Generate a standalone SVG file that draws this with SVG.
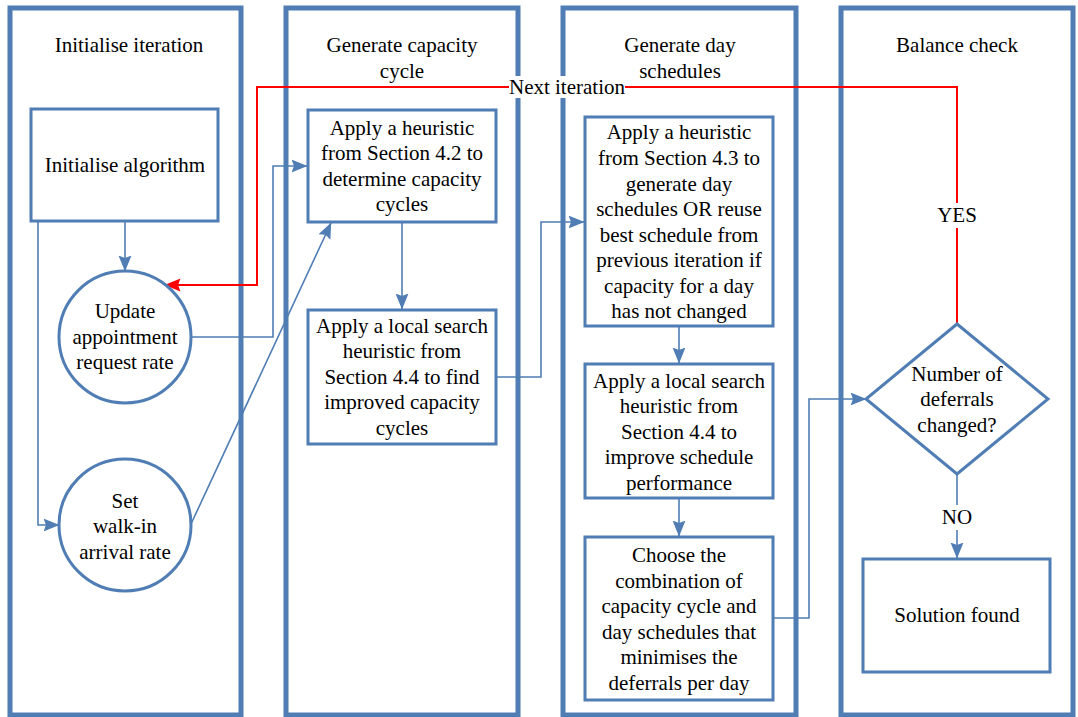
<svg xmlns="http://www.w3.org/2000/svg" width="1078" height="717" viewBox="0 0 1078 717">
<defs>
<marker id="ab" markerUnits="userSpaceOnUse" markerWidth="16" markerHeight="14" viewBox="0 0 16 14" refX="15.5" refY="7" orient="auto"><path d="M0,0.5 L16,7 L0,13.5 L2.5,7 Z" fill="#4F7DB4"/></marker>
<marker id="ar" markerUnits="userSpaceOnUse" markerWidth="16" markerHeight="14" viewBox="0 0 16 14" refX="15.5" refY="7" orient="auto"><path d="M0,0.5 L16,7 L0,13.5 L2.5,7 Z" fill="#FF0000"/></marker>
<style>
.lane{fill:#fff;stroke:#4F7DB4;stroke-width:5}
.node{fill:#fff;stroke:#4F7DB4;stroke-width:3}
.c{fill:none;stroke:#4F7DB4;stroke-width:1.6}
.r{fill:none;stroke:#FF0000;stroke-width:2}
text{font-family:"Liberation Serif","Times New Roman",serif;font-size:21px;fill:#000;text-anchor:middle}
</style>
</defs>
<rect width="1078" height="717" fill="#fff"/>
<g id="lanes">
<g id="lane-init"><rect class="lane" x="10" y="8" width="231" height="707"/><text x="129" y="52">Initialise iteration</text></g>
<g id="lane-capacity"><rect class="lane" x="286" y="8" width="232" height="707"/><text x="402" y="52">Generate capacity</text><text x="402" y="78">cycle</text></g>
<g id="lane-day"><rect class="lane" x="563" y="8" width="233" height="707"/><text x="680" y="52">Generate day</text><text x="680" y="78">schedules</text></g>
<g id="lane-balance"><rect class="lane" x="841" y="8" width="232" height="707"/><text x="957" y="52">Balance check</text></g>
</g>
<g id="connectors">
<path class="c" d="M125,221 V271" marker-end="url(#ab)"/>
<path class="c" d="M38,221 V525 H59" marker-end="url(#ab)"/>
<path class="c" d="M191,337 H273 V166 H307" marker-end="url(#ab)"/>
<path class="c" d="M191,524 L331,223" marker-end="url(#ab)"/>
<path class="c" d="M402,222 V309" marker-end="url(#ab)"/>
<path class="c" d="M496,377 H541 V222 H584" marker-end="url(#ab)"/>
<path class="c" d="M679,326 V363" marker-end="url(#ab)"/>
<path class="c" d="M679,498 V536" marker-end="url(#ab)"/>
<path class="c" d="M773,618 H809 V399 H866" marker-end="url(#ab)"/>
<path class="c" d="M957,474 V505 M957,530 V558" marker-end="url(#ab)"/>
<path class="r" d="M957,324 V228 M957,203 V87 H257 V285 H165" marker-end="url(#ar)"/>
<rect x="509" y="76" width="116" height="22" fill="#fff"/>
<text x="567" y="94">Next iteration</text>
<text x="957" y="222">YES</text>
<text x="957" y="524">NO</text>
</g>
<g id="n-init-alg"><rect class="node" x="31" y="109" width="187" height="112"/><text x="125" y="172">Initialise algorithm</text></g>
<g id="n-update"><circle class="node" cx="125" cy="337" r="66"/><text x="125" y="318">Update</text><text x="125" y="344">appointment</text><text x="125" y="369">request rate</text></g>
<g id="n-walkin"><circle class="node" cx="125" cy="525" r="66"/><text x="125" y="508">Set</text><text x="125" y="533">walk-in</text><text x="125" y="559">arrival rate</text></g>
<g id="n-cap1"><rect class="node" x="308" y="110" width="188" height="112"/><text x="402" y="135">Apply a heuristic</text><text x="402" y="160">from Section 4.2 to</text><text x="402" y="186">determine capacity</text><text x="402" y="211">cycles</text></g>
<g id="n-cap2"><rect class="node" x="308" y="310" width="188" height="134"/><text x="402" y="333">Apply a local search</text><text x="402" y="358">heuristic from</text><text x="402" y="384">Section 4.4 to find</text><text x="402" y="409">improved capacity</text><text x="402" y="435">cycles</text></g>
<g id="n-day1"><rect class="node" x="585" y="117" width="188" height="209"/><text x="679" y="139">Apply a heuristic</text><text x="679" y="165">from Section 4.3 to</text><text x="679" y="191">generate day</text><text x="679" y="216">schedules OR reuse</text><text x="679" y="242">best schedule from</text><text x="679" y="267">previous iteration if</text><text x="679" y="293">capacity for a day</text><text x="679" y="318">has not changed</text></g>
<g id="n-day2"><rect class="node" x="585" y="364" width="188" height="134"/><text x="679" y="388">Apply a local search</text><text x="679" y="413">heuristic from</text><text x="679" y="439">Section 4.4 to</text><text x="679" y="464">improve schedule</text><text x="679" y="490">performance</text></g>
<g id="n-day3"><rect class="node" x="585" y="537" width="188" height="163"/><text x="679" y="562">Choose the</text><text x="679" y="588">combination of</text><text x="679" y="613">capacity cycle and</text><text x="679" y="639">day schedules that</text><text x="679" y="664">minimises the</text><text x="679" y="690">deferrals per day</text></g>
<g id="n-decision"><path class="node" d="M957,324 L1048,399 L957,474 L866,399 Z"/><text x="957" y="381">Number of</text><text x="957" y="406">deferrals</text><text x="957" y="432">changed?</text></g>
<g id="n-solution"><rect class="node" x="863" y="559" width="187" height="113"/><text x="957" y="622">Solution found</text></g>
</svg>
